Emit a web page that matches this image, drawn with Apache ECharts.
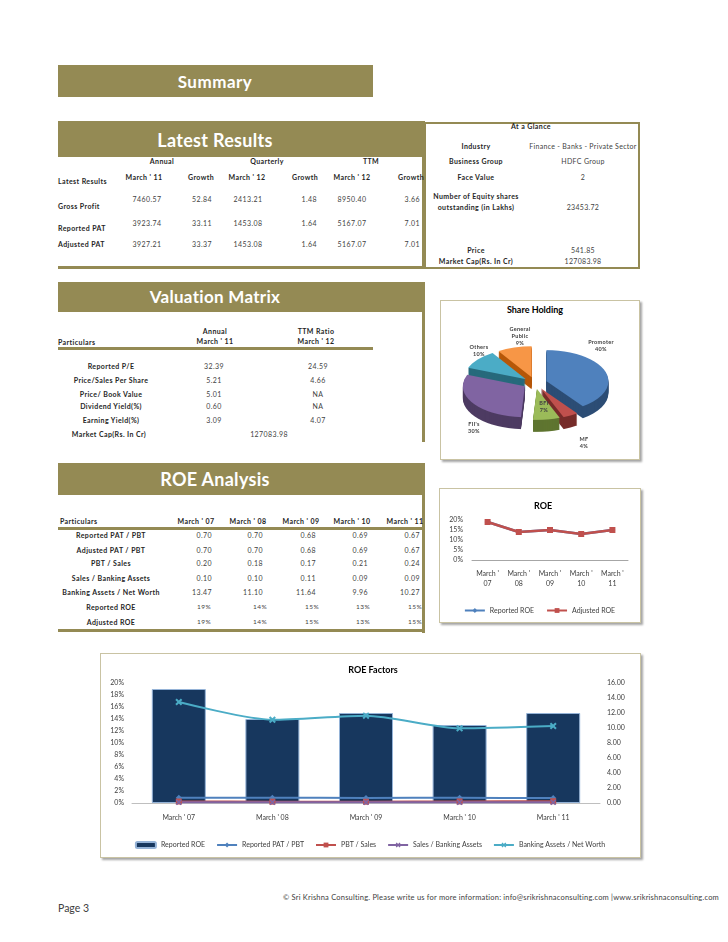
<!DOCTYPE html>
<html><head><meta charset="utf-8">
<script src="https://cdn.jsdelivr.net/npm/echarts/dist/echarts.min.js"></script>
<style>
body{margin:0;background:#fff;font-family:Lato,'Open Sans',sans-serif;}
#page{position:relative;width:728px;height:942px;overflow:hidden;background:#fff;}
.t{position:absolute;white-space:nowrap;line-height:1;}
.bar{position:absolute;background:#948A54;}
.box{position:absolute;border:1px solid #c9c3a3;box-shadow:2px 2px 2px #a6a6a6;background:#fff;}
.chart{position:absolute;}
</style>
</head><body><div id="page"></div>
<script>
// ---------------- DATA ----------------
const lrGroups = ['Annual', 'Quarterly', 'TTM'];
const lrColumns = ["March ' 11", 'Growth', "March ' 12", 'Growth', "March ' 12", 'Growth'];
const lrRowLabels = ['Gross Profit', 'Reported PAT', 'Adjusted PAT'];
const lrGrossProfit = ['7460.57', '52.84', '2413.21', '1.48', '8950.40', '3.66'];
const lrReportedPAT = ['3923.74', '33.11', '1453.08', '1.64', '5167.07', '7.01'];
const lrAdjustedPAT = ['3927.21', '33.37', '1453.08', '1.64', '5167.07', '7.01'];

const glanceLabels = ['Industry', 'Business Group', 'Face Value', 'Number of Equity shares|outstanding (in Lakhs)', 'Price', 'Market Cap(Rs. In Cr)'];
const glanceValues = ['Finance - Banks - Private Sector', 'HDFC Group', '2', '23453.72', '541.85', '127083.98'];

const vmRowLabels = ['Reported P/E', 'Price/Sales Per Share', 'Price/ Book Value', 'Dividend Yield(%)', 'Earning Yield(%)'];
const vmAnnual = ['32.39', '5.21', '5.01', '0.60', '3.09'];
const vmTTM = ['24.59', '4.66', 'NA', 'NA', '4.07'];
const vmMarketCap = '127083.98';

const shareNames = ['Promoter', 'MF', 'BFI', "FII's", 'Others', 'General Public'];
const shareValues = [40, 4, 7, 30, 10, 9];

const roeCategories = ["March ' 07", "March ' 08", "March ' 09", "March ' 10", "March ' 11"];
const reportedPatPbt = [0.70, 0.70, 0.68, 0.69, 0.67];
const adjustedPatPbt = [0.70, 0.70, 0.68, 0.69, 0.67];
const pbtSales = [0.20, 0.18, 0.17, 0.21, 0.24];
const salesBankingAssets = [0.10, 0.10, 0.11, 0.09, 0.09];
const bankingAssetsNetWorth = [13.47, 11.10, 11.64, 9.96, 10.27];
const reportedROE = [19, 14, 15, 13, 15];
const adjustedROE = [19, 14, 15, 13, 15];

// ---------------- LAYOUT HELPERS ----------------
const page = document.getElementById('page');
function el(cls, x, y, w, h, extra) {
  const d = document.createElement('div'); d.className = cls;
  Object.assign(d.style, {left: x + 'px', top: y + 'px', width: w + 'px', height: h + 'px'}, extra || {});
  page.appendChild(d); return d;
}
function T(x, y, s, o) {
  o = o || {};
  const d = document.createElement('div'); d.className = 't'; d.textContent = s;
  const a = o.a || 'c';
  const tx = a === 'c' ? '-50%' : (a === 'r' ? '-100%' : '0');
  Object.assign(d.style, {
    left: x + 'px', top: y + 'px', transform: 'translate(' + tx + ',-50%)',
    fontSize: (o.fs || 7) + 'px', fontWeight: o.b ? 'bold' : 'normal',
    color: o.c || (o.b ? '#262626' : '#3f3f3f'), letterSpacing: (o.ls != null ? o.ls : 0.4) + 'px'
  });
  page.appendChild(d); return d;
}
const L = {b: true};

// ---------------- SUMMARY ----------------
el('bar', 58, 65, 315, 32);
T(215, 81, 'Summary', {fs: 17, b: true, c: '#fff', ls: 0.5});

// Latest results frame
el('bar', 58, 121, 367, 36);
el('bar', 422, 121, 3, 148);
el('bar', 58, 266, 367, 3);
T(215, 140, 'Latest Results', {fs: 18, b: true, c: '#fff', ls: 0.3});
const lrGroupX = [162, 267, 371];
lrGroups.forEach((g, i) => T(lrGroupX[i], 161, g, L));
const lrColX = [144, 201, 247, 305, 352, 411];
lrColumns.forEach((c, i) => T(lrColX[i], 177, c, L));
T(58, 181, 'Latest Results', {a: 'l', b: true});
const lrValX = [147, 212, 248, 317, 352, 420];
const lrRows = [lrGrossProfit, lrReportedPAT, lrAdjustedPAT];
const lrValY = [199, 223, 244];
const lrLabY = [206, 228, 244];
lrRows.forEach((row, r) => {
  T(58, lrLabY[r], lrRowLabels[r], {a: 'l', b: true});
  row.forEach((v, i) => T(lrValX[i], lrValY[r], v, {a: i % 2 ? 'r' : 'c'}));
});

// At a glance
el('box', 424, 122, 212, 143, {border: '2px solid #948A54', boxShadow: 'none', background: 'transparent'});
T(531, 126, 'At a Glance', {b: true});
const glY = [146, 160.5, 176.5, 207, 249.5, 261];
glanceLabels.forEach((lab, i) => {
  const parts = lab.split('|');
  if (parts.length > 1) { T(476, 196, parts[0], L); T(476, 207, parts[1], L); }
  else T(476, glY[i], lab, L);
  T(583, glY[i], glanceValues[i], {ls: 0.3});
});

// ---------------- VALUATION MATRIX ----------------
el('bar', 58, 282, 367, 30);
el('bar', 422, 282, 3, 160);
T(215, 296, 'Valuation Matrix', {fs: 17, b: true, c: '#fff', ls: 0.3});
T(215, 331, 'Annual', L); T(316, 331, 'TTM Ratio', L);
T(58, 342, 'Particulars', {a: 'l', b: true});
T(215, 341, "March ' 11", L); T(316, 341, "March ' 12", L);
el('bar', 58, 347, 315, 3);
const vmY = [365.5, 380, 394, 406, 420];
vmRowLabels.forEach((lab, i) => {
  T(111, vmY[i], lab, L);
  T(214, vmY[i], vmAnnual[i]);
  T(318, vmY[i], vmTTM[i]);
});
T(109, 434, 'Market Cap(Rs. In Cr)', L);
T(269, 434, vmMarketCap);

// ---------------- SHARE HOLDING ----------------
el('box', 440, 300, 198, 158);
T(535, 308.5, 'Share Holding', {fs: 9, b: true, c: '#000', ls: 0});
const pieDiv = el('chart', 435, 285, 200, 200, {transform: 'scaleY(0.5)', transformOrigin: '50% 50%'});
const topColors = ['#4F81BD', '#C0504D', '#9BBB59', '#8064A2', '#4BACC6', '#F79646'];
const sideColors = ['#2C4D75', '#772C2A', '#5F7530', '#4D3B62', '#276A7C', '#B65708'];
function pieLayer(cy, colors, z) {
  return {
    type: 'pie', radius: 62, center: [100, cy], startAngle: 90, clockwise: true,
    selectedMode: 'multiple', selectedOffset: 12, silent: true, z: z,
    label: {show: false}, labelLine: {show: false}, emphasis: {disabled: true},
    itemStyle: {borderWidth: 0},
    data: shareNames.map((n, i) => ({name: n, value: shareValues[i], selected: true, itemStyle: {color: colors[i]}}))
  };
}
const pieSeries = [];
for (let k = 24; k > 0; k -= 2) pieSeries.push(pieLayer(96 + k, sideColors, 1));
pieSeries.push(pieLayer(96, topColors, 2));
const pieChart = echarts.init(pieDiv, null, {renderer: 'canvas'});
pieChart.setOption({animation: false, series: pieSeries});
const pieLabelPos = [[601, 343], [584, 440], [544, 404], [474, 425], [479, 348], [520, 330]];
shareNames.forEach((n, i) => {
  const lines = n === 'General Public' ? ['General', 'Public'] : [n];
  lines.push(shareValues[i] + '%');
  lines.forEach((s, j) => T(pieLabelPos[i][0], pieLabelPos[i][1] + j * 7, s, {fs: 5.5, b: true, c: '#404040', ls: 0.3}));
});

// ---------------- ROE ANALYSIS ----------------
el('bar', 58, 463, 367, 32);
el('bar', 422, 463, 3, 170);
el('bar', 58, 629, 367, 3);
T(215, 479, 'ROE Analysis', {fs: 18, b: true, c: '#fff', ls: 0.3});
T(60, 521, 'Particulars', {a: 'l', b: true});
const roeColX = [196, 248, 301, 352, 405];
roeCategories.forEach((c, i) => T(roeColX[i], 521, c, L));
el('bar', 58, 527, 367, 3);
const fmt2 = a => a.map(v => v.toFixed(2));
const fmtP = a => a.map(v => v + '%');
const roeTableRows = [
  ['Reported PAT / PBT', fmt2(reportedPatPbt)],
  ['Adjusted PAT / PBT', fmt2(adjustedPatPbt)],
  ['PBT / Sales', fmt2(pbtSales)],
  ['Sales / Banking Assets', fmt2(salesBankingAssets)],
  ['Banking Assets / Net Worth', fmt2(bankingAssetsNetWorth)],
  ['Reported ROE', fmtP(reportedROE)],
  ['Adjusted ROE', fmtP(adjustedROE)]
];
const roeRowY = [534.5, 549.5, 563, 578, 592, 607, 622];
const numRight = [212, 263, 316, 368, 420];
const pctRight = [211, 267, 319, 370, 422];
roeTableRows.forEach((r, i) => {
  T(111, roeRowY[i], r[0], L);
  r[1].forEach((v, j) => T(i >= 5 ? pctRight[j] : numRight[j], roeRowY[i], v, {a: 'r', fs: i >= 5 ? 6.5 : 7}));
});

// ROE chart
el('box', 439, 488, 200, 133);
const roeDiv = el('chart', 439, 488, 201, 133);
const roeChart = echarts.init(roeDiv);
const ff = 'Lato, sans-serif';
roeChart.setOption({
  animation: false, textStyle: {fontFamily: ff},
  title: {text: 'ROE', left: 99, top: 9, textAlign: 'center', textStyle: {fontSize: 9, fontWeight: 'bold', color: '#000', fontFamily: ff}},
  grid: {left: 33, right: 12, top: 32, bottom: 61},
  legend: {top: 114, left: 'center', itemWidth: 20, itemHeight: 6, itemGap: 12,
    textStyle: {fontSize: 7, color: '#404040', fontFamily: ff}, data: ['Reported ROE', 'Adjusted ROE']},
  xAxis: {type: 'category', data: roeCategories,
    axisLine: {lineStyle: {color: '#a6a6a6'}}, axisTick: {show: false},
    axisLabel: {fontSize: 7, color: '#404040', margin: 9, lineHeight: 10, interval: 0,
      formatter: v => { const k = v.lastIndexOf(' '); return v.slice(0, k) + '\n' + v.slice(k + 1); }}},
  yAxis: {type: 'value', min: 0, max: 0.2, interval: 0.05, splitLine: {show: false},
    axisLine: {show: false}, axisTick: {show: false},
    axisLabel: {fontSize: 7, color: '#404040', margin: 9, formatter: v => Math.round(v * 100) + '%'}},
  series: [
    {name: 'Reported ROE', type: 'line', data: reportedROE.map(v => v / 100), symbol: 'diamond', symbolSize: 6,
      itemStyle: {color: '#4F81BD'}, lineStyle: {width: 2.5, color: '#4F81BD'}},
    {name: 'Adjusted ROE', type: 'line', data: adjustedROE.map(v => v / 100), symbol: 'rect', symbolSize: 6,
      itemStyle: {color: '#C0504D'}, lineStyle: {width: 2.5, color: '#C0504D'}}
  ]
});

// ---------------- ROE FACTORS ----------------
el('box', 100, 653, 539, 203);
const facDiv = el('chart', 100, 653, 540, 204);
const facChart = echarts.init(facDiv);
const xSym = 'path://M2,0 L5,3 L8,0 L10,2 L7,5 L10,8 L8,10 L5,7 L2,10 L0,8 L3,5 L0,2 Z';
function lineS(name, data, color, symbol, size) {
  return {name, type: 'line', yAxisIndex: 1, data, symbol, symbolSize: size, smooth: 0.25,
    itemStyle: {color}, lineStyle: {width: 2, color}, z: 3};
}
facChart.setOption({
  animation: false, textStyle: {fontFamily: ff},
  title: {text: 'ROE Factors', left: 268, top: 8, textAlign: 'center', textStyle: {fontSize: 9, fontWeight: 'bold', color: '#000', fontFamily: ff}},
  grid: {left: 32, right: 40, top: 30, bottom: 54},
  legend: {top: 183, left: 'center', itemWidth: 20, itemHeight: 6, itemGap: 11,
    textStyle: {fontSize: 7, color: '#404040', fontFamily: ff}},
  xAxis: {type: 'category', data: roeCategories,
    axisLine: {lineStyle: {color: '#bfbfbf'}}, axisTick: {show: false},
    axisLabel: {fontSize: 7, color: '#404040', margin: 11, interval: 0}},
  yAxis: [
    {type: 'value', min: 0, max: 0.2, interval: 0.02, splitLine: {show: false}, axisLine: {show: false}, axisTick: {show: false},
      axisLabel: {fontSize: 7, color: '#404040', margin: 8, formatter: v => Math.round(v * 100) + '%'}},
    {type: 'value', min: 0, max: 16, interval: 2, position: 'right', splitLine: {show: false}, axisLine: {show: false}, axisTick: {show: false},
      axisLabel: {fontSize: 7, color: '#404040', margin: 7, formatter: v => v.toFixed(2)}}
  ],
  series: [
    {name: 'Reported ROE', type: 'bar', data: reportedROE.map(v => v / 100), barWidth: 54,
      itemStyle: {color: '#17375E', borderColor: '#95B3D7', borderWidth: 1}},
    lineS('Reported PAT / PBT', reportedPatPbt, '#4F81BD', 'diamond', 6),
    lineS('PBT / Sales', pbtSales, '#C0504D', 'rect', 6),
    lineS('Sales / Banking Assets', salesBankingAssets, '#8064A2', xSym, 6),
    lineS('Banking Assets / Net Worth', bankingAssetsNetWorth, '#4BACC6', xSym, 7)
  ]
});

// ---------------- FOOTER ----------------
T(283, 898, '\u00A9 Sri Krishna Consulting. Please write us for more information: info@srikrishnaconsulting.com |www.srikrishnaconsulting.com', {a: 'l', fs: 7.5, c: '#404040', ls: 0.2});
T(58, 908, 'Page 3', {a: 'l', fs: 10.5, c: '#404040', ls: 0});
</script>
</body></html>
